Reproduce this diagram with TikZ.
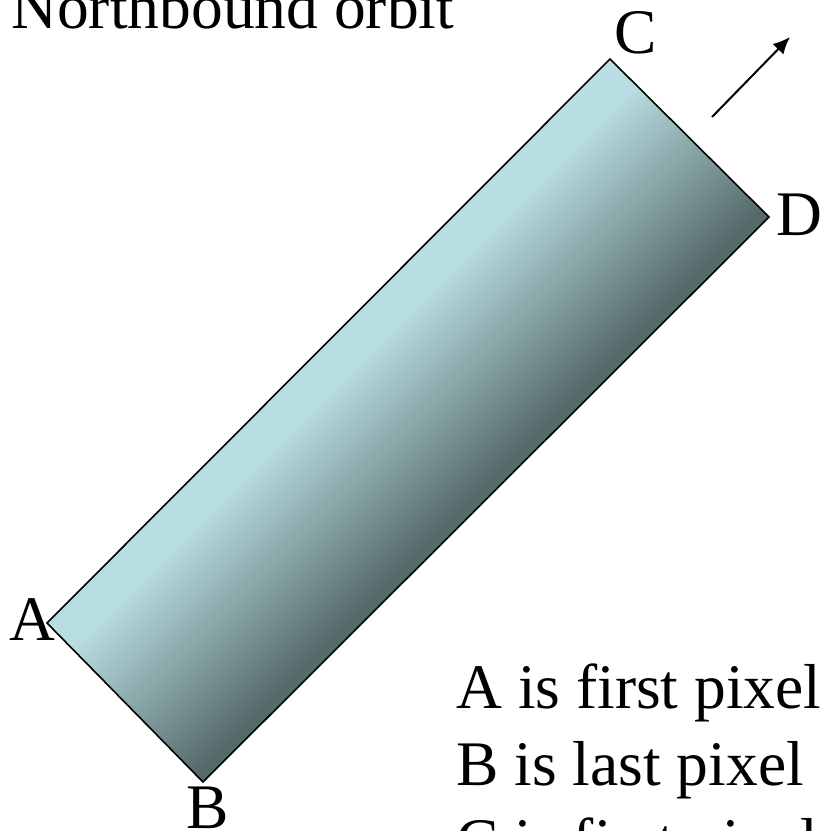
\documentclass[tikz,border=0pt]{standalone}
\usepackage{fontspec}
\setmainfont{Liberation Serif}
\usetikzlibrary{positioning,arrows.meta}
\definecolor{orbitlight}{HTML}{B9DEE2}
\definecolor{orbitdark}{HTML}{566A6A}
\pgfdeclarehorizontalshading{swathshade}{100bp}{color(0bp)=(orbitlight); color(44.5bp)=(orbitlight); color(57bp)=(orbitdark); color(100bp)=(orbitdark)}

\begin{document}
\begin{tikzpicture}[
  x=0.5pt, y=-0.5pt,
  swath/.style={draw=black, line width=0.8pt, shading=swathshade, shading angle=-45},
  lbl/.style={anchor=base west, inner sep=0pt, font=\fontsize{31.75}{38.5}\selectfont},
  motion/.style={-{Latex[length=8.5pt,width=7.5pt]}, line width=1pt},
]

% page frame (pixels, y downwards)
\clip (0,0) rectangle (821,831);

% ---------- swath corners ----------
\coordinate (A) at (47,623);
\coordinate (B) at (203,782);
\coordinate (C) at (610,59);
\coordinate (D) at (769,217);

\path[swath] (A) -- (B) -- (D) -- (C) -- cycle;

% corner labels
\node[lbl] (labA) at (9,640) {A};
\node[lbl] (labB) at (186,828) {B};
\node[lbl] (labC) at (614,53) {C};
\node[lbl] (labD) at (776,235) {D};

% ---------- direction of flight ----------
\coordinate (tail) at (712,117);
\coordinate (head) at (790,37);
\draw[motion] (tail) -- (head);

% ---------- texts ----------
\node[lbl] (title) at (11,28) {Northbound orbit};
\node[lbl] (first) at (456,708) {A is first pixel};
\node[lbl] (last) at (456,785) {B is last pixel};
\node[lbl] (third) at (456,862) {C is first pixel};

\end{tikzpicture}
\end{document}
